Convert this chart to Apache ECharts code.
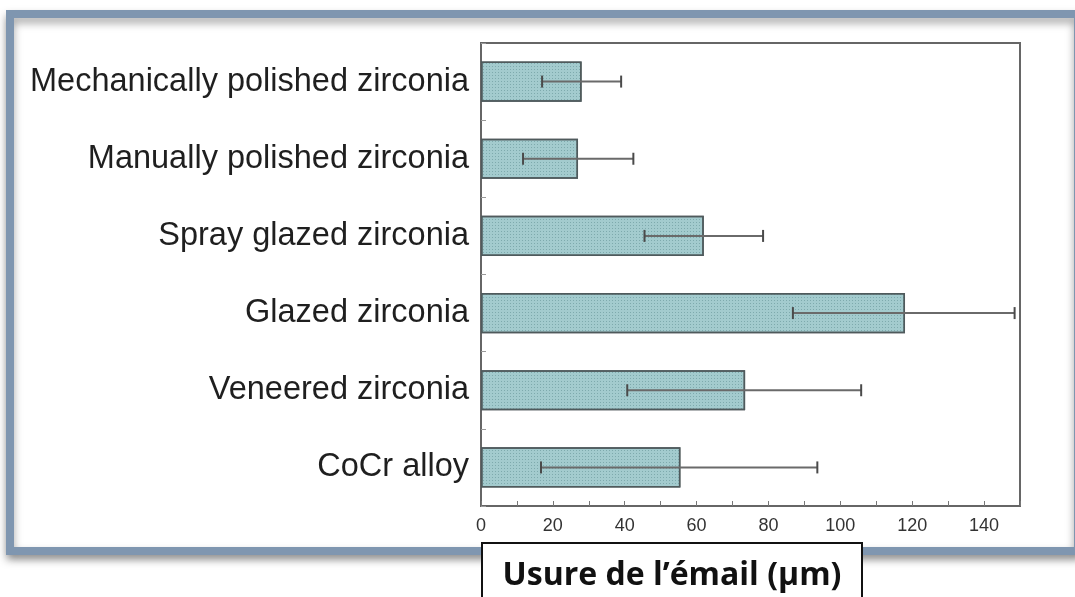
<!DOCTYPE html>
<html>
<head>
<meta charset="utf-8">
<script src="https://cdn.jsdelivr.net/npm/echarts@6/dist/echarts.min.js"></script>
<style>
  html, body { margin: 0; padding: 0; background: #fff; }
  #chart { width: 1075px; height: 597px; }
</style>
</head>
<body>
<div id="chart"></div>
<script>
// categories listed top to bottom
const categories = [
  'Mechanically polished zirconia',
  'Manually polished zirconia',
  'Spray glazed zirconia',
  'Glazed zirconia',
  'Veneered zirconia',
  'CoCr alloy'
];
const meanWear = [28, 27, 62, 118, 73.5, 55.5];
const errLow = [17, 11.7, 45.5, 86.8, 40.7, 16.7];
const errHigh = [39, 42.4, 78.5, 148.5, 105.8, 93.6];
const xTitle = 'Usure de l’émail (µm)';

const chart = echarts.init(document.getElementById('chart'));

const errData = categories.map((c, i) => [i, errLow[i], errHigh[i]]);

const option = {
  animation: false,
  graphic: [
    {
      type: 'rect',
      z: -10,
      shape: { x: 10, y: 14, width: 1068, height: 537 },
      style: {
        fill: '#fff',
        stroke: '#7f96b0',
        lineWidth: 8,
        shadowBlur: 8,
        shadowOffsetY: 5,
        shadowColor: 'rgba(0,0,0,0.35)'
      }
    },
    {
      type: 'group',
      z: 100,
      children: [
        {
          type: 'rect',
          shape: { x: 482, y: 543, width: 380, height: 70 },
          style: { fill: '#fff', stroke: '#111', lineWidth: 2 }
        },
        {
          type: 'text',
          x: 672,
          y: 576,
          style: {
            text: xTitle,
            fill: '#111',
            font: 'bold 32px "Open Sans", sans-serif',
            align: 'center',
            verticalAlign: 'middle'
          }
        }
      ]
    }
  ],
  grid: {
    left: 481,
    top: 43,
    right: 55,
    bottom: 91,
    show: true,
    borderColor: '#666',
    borderWidth: 2,
    backgroundColor: 'transparent'
  },
  xAxis: {
    type: 'value',
    min: 0,
    max: 150,
    interval: 20,
    axisLine: { show: true, lineStyle: { color: '#666', width: 2 } },
    axisTick: { show: true, inside: true, length: 5, lineStyle: { color: '#777' } },
    minorTick: { show: true, splitNumber: 2, length: 5, lineStyle: { color: '#777' } },
    splitLine: { show: false },
    axisLabel: {
      color: '#333',
      fontSize: 18,
      fontFamily: 'Liberation Sans, Arial, sans-serif',
      margin: 11,
      showMaxLabel: false
    }
  },
  yAxis: {
    type: 'category',
    data: categories,
    inverse: true,
    axisLine: { show: true, lineStyle: { color: '#666', width: 2 } },
    axisTick: { show: true, inside: true, length: 5, lineStyle: { color: '#999' } },
    axisLabel: {
      color: '#1f1f1f',
      fontSize: 32.5,
      fontFamily: 'Liberation Sans, Arial, sans-serif',
      margin: 12
    }
  },
  series: [
    {
      type: 'bar',
      data: meanWear,
      barCategoryGap: '48%',
      itemStyle: {
        color: '#a3cbce',
        borderColor: '#4f5a5c',
        borderWidth: 1.5,
        decal: {
          symbol: 'rect',
          symbolSize: 1,
          dashArrayX: [1, 2],
          dashArrayY: [1, 2],
          color: 'rgba(70,120,125,0.4)'
        }
      }
    },
    {
      type: 'custom',
      data: errData,
      encode: { x: [1, 2], y: 0 },
      z: 5,
      renderItem: function (params, api) {
        const cat = api.value(0);
        const p0 = api.coord([api.value(1), cat]);
        const p1 = api.coord([api.value(2), cat]);
        const h = 6;
        const style = { stroke: '#6a6a6a', lineWidth: 2 };
        return {
          type: 'group',
          children: [
            { type: 'line', shape: { x1: p0[0], y1: p0[1], x2: p1[0], y2: p1[1] }, style: style },
            { type: 'line', shape: { x1: p0[0], y1: p0[1] - h, x2: p0[0], y2: p0[1] + h }, style: { stroke: '#4a4a4a', lineWidth: 2 } },
            { type: 'line', shape: { x1: p1[0], y1: p1[1] - h, x2: p1[0], y2: p1[1] + h }, style: { stroke: '#4a4a4a', lineWidth: 2 } }
          ]
        };
      }
    }
  ]
};

chart.setOption(option);
</script>
</body>
</html>
